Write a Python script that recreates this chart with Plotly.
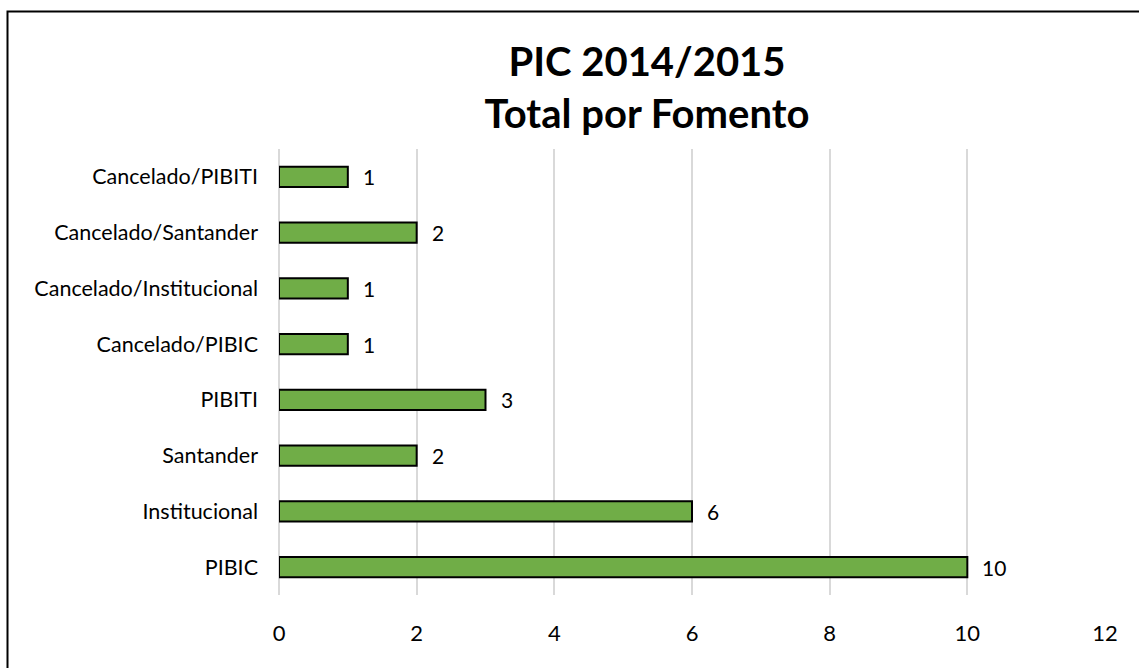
import plotly.graph_objects as go

categories = ["PIBIC", "Institucional", "Santander", "PIBITI",
              "Cancelado/PIBIC", "Cancelado/Institucional",
              "Cancelado/Santander", "Cancelado/PIBITI"]
values = [10, 6, 2, 3, 1, 1, 2, 1]
x_ticks = [0, 2, 4, 6, 8, 10, 12]

FONT = "Lato, Carlito, Calibri, sans-serif"

L, R, T, B = 279, 34, 149, 73
W, H = 1139, 668
PW, PH = W - L - R, H - T - B

fig = go.Figure(go.Bar(
    x=values, y=categories, orientation="h",
    marker=dict(color="#70AD47", line=dict(color="black", width=2)),
    width=0.36,
    hoverinfo="x+y",
))

for c, v in zip(categories, values):
    fig.add_annotation(x=v, y=c, text=str(v), showarrow=False,
                       xanchor="left", xshift=13,
                       font=dict(family=FONT, size=21, color="black"))

fig.update_layout(
    width=W, height=H,
    paper_bgcolor="white", plot_bgcolor="white",
    margin=dict(l=L, r=R, t=T, b=B),
    title=dict(text="<b>PIC 2014/2015</b><br><b>Total por Fomento</b>",
               x=647 / W, xanchor="center", y=1 - 76 / H, yanchor="top",
               font=dict(family=FONT, size=40, color="black")),
    font=dict(family=FONT, size=21, color="black"),
    showlegend=False,
    shapes=[dict(type="rect", xref="paper", yref="paper",
                 x0=(7.5 - L) / PW, x1=1.5, y0=-0.5, y1=1 + (T - 11.5) / PH,
                 line=dict(color="black", width=2), fillcolor="rgba(0,0,0,0)",
                 layer="below")],
)
fig.update_xaxes(range=[0, 12], tickvals=x_ticks, showgrid=True,
                 gridcolor="#D9D9D9", gridwidth=1.5, zeroline=True,
                 zerolinecolor="#D9D9D9", zerolinewidth=1.5,
                 ticks="", ticklabelstandoff=23,
                 tickfont=dict(family=FONT, size=22, color="black"))
fig.update_yaxes(categoryorder="array", categoryarray=categories,
                 ticks="", ticklabelstandoff=20, showgrid=False,
                 tickfont=dict(family=FONT, size=21.5, color="black"))

fig.write_html("out.html", config={"displayModeBar": False},
               post_script="document.body.style.margin='0';")
